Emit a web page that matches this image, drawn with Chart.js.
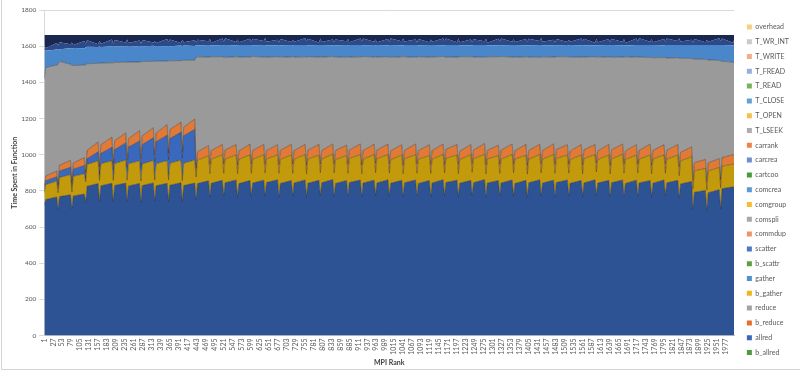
<!DOCTYPE html>
<html><head><meta charset="utf-8">
<script src="https://cdn.jsdelivr.net/npm/chart.js@4.4.1/dist/chart.umd.min.js"></script>
<style>html,body{margin:0;padding:0;background:#fff;}canvas{display:block;}</style>
</head><body>
<canvas id="c" width="800" height="378"></canvas>
<script>
// MPI rank positions of the read points (dip, plateau start, plateau end of each 40-rank node)
const ranks = [1,5,37,41,45,77,81,85,117,121,125,157,161,165,197,201,205,237,241,245,277,281,285,317,321,325,357,361,365,397,401,405,437,441,445,477,481,485,517,521,525,557,561,565,597,601,605,637,641,645,677,681,685,717,721,725,757,761,765,797,801,805,837,841,845,877,881,885,917,921,925,957,961,965,997,1001,1005,1037,1041,1045,1077,1081,1085,1117,1121,1125,1157,1161,1165,1197,1201,1205,1237,1241,1245,1277,1281,1285,1317,1321,1325,1357,1361,1365,1397,1401,1405,1437,1441,1445,1477,1481,1485,1517,1521,1525,1557,1561,1565,1597,1601,1605,1637,1641,1645,1677,1681,1685,1717,1721,1725,1757,1761,1765,1797,1801,1805,1837,1841,1845,1877,1881,1885,1917,1921,1925,1957,1961,1965,1997,2000];

const tickLabels = [1,27,53,79,105,131,157,183,209,235,261,287,313,339,365,391,417,443,469,495,521,547,573,599,625,651,677,703,729,755,781,807,833,859,885,911,937,963,989,1015,1041,1067,1093,1119,1145,1171,1197,1223,1249,1275,1301,1327,1353,1379,1405,1431,1457,1483,1509,1535,1561,1587,1613,1639,1665,1691,1717,1743,1769,1795,1821,1847,1873,1899,1925,1951,1977];

const allred = [720,752,766,700,768,778,702,772,782,735,826,840,740,828,842,738,830,843,742,827,841,736,829,844,744,828,842,740,831,845,738,829,843,752,840,856,768,842,858,772,845,860,765,840,857,770,843,859,774,846,861,768,841,857,771,844,860,766,842,858,773,845,862,769,841,857,772,846,860,767,843,859,775,844,861,770,842,858,768,845,860,773,841,857,766,844,861,771,846,859,769,842,858,774,845,862,767,843,857,772,844,860,770,841,858,765,845,861,773,843,859,768,846,860,771,842,857,769,844,861,774,843,858,766,845,860,772,841,859,770,844,857,767,842,860,773,845,858,760,838,852,700,792,802,692,790,806,700,812,822,818];

const bGather = [70,82,88,90,106,112,92,108,113,115,120,126,118,122,124,120,121,127,117,123,125,119,120,124,116,122,126,121,121,125,118,124,127,125,130,138,128,133,141,126,131,139,130,134,142,127,132,140,125,130,138,129,133,141,126,131,140,128,134,139,127,130,141,130,132,138,125,133,140,128,131,142,126,134,139,129,130,141,127,132,140,125,133,138,130,131,141,128,134,139,126,130,142,129,132,140,127,133,138,125,131,141,130,134,139,128,130,140,126,132,142,129,133,138,127,131,141,125,134,139,130,130,140,128,132,142,126,133,138,129,131,141,127,134,139,125,130,140,124,128,136,112,118,122,114,120,124,118,124,126,125];

const gather = [18,22,24,22,36,40,24,40,45,22,32,50,40,57,75,60,77,95,72,92,110,85,107,125,100,122,140,112,137,155,125,152,170,0];

const commdup = [18,26,32,20,32,38,22,34,44,30,46,54,36,48,56,34,50,55,38,47,57,35,49,56,37,48,58,36,50,55,34,47,57,48,46,56,50,48,58,52,50,57,49,47,59,51,49,58,50,48,56,48,50,59,52,47,57,50,49,60,49,48,56,51,50,58,50,47,59,48,49,57,52,48,58,50,50,56,49,47,59,51,49,60,50,48,57,48,50,58,52,47,56,50,49,59,49,48,57,51,50,58,50,47,60,48,49,56,52,48,59,50,50,57,49,47,58,51,49,56,50,48,59,48,50,57,52,47,58,50,49,60,49,48,56,51,50,58,50,47,55,44,46,50,42,45,48,45,48,52,50];

const tLseek = [594,600,586,668,574,532,654,539,511,595,479,435,572,452,411,556,432,391,543,423,380,539,410,367,519,397,352,510,380,340,506,370,325,615,525,490,593,518,485,590,512,485,598,519,481,593,519,483,589,516,487,595,517,482,594,518,484,595,517,483,592,516,484,590,518,485,595,514,482,596,520,482,588,514,484,591,516,486,599,517,480,591,519,485,592,517,484,594,509,484,593,523,485,589,514,478,596,517,490,593,518,481,590,517,484,601,516,481,588,518,480,593,513,486,594,519,484,593,513,486,586,520,482,600,511,481,590,520,484,590,516,479,595,512,482,587,510,480,600,520,489,674,572,553,678,569,543,656,532,512,515];

const tClose = [158,93,86,85,67,88,92,97,93,97,94,91,92,88,91,89,90,87,87,85,88,86,83,86,82,84,82,82,80,83,79,81,79,66,64,67,67,63,65,65,68,64,63,66,68,66,62,67,69,65,63,66,64,68,62,67,65,68,63,66,65,68,62,66,64,69,63,67,65,68,62,67,64,66,63,67,69,64,62,65,68,66,63,66,69,67,62,64,68,67,67,63,64,63,66,68,68,64,63,65,62,67,66,68,64,63,65,69,68,64,65,66,63,66,64,68,65,69,65,63,65,64,68,63,69,65,66,63,67,67,66,69,68,70,68,70,71,70,72,73,74,76,78,79,80,82,85,87,90,93,96];

const tFread = [30,14,36,18,38,22,34,16,40,20,36,14,32,18,38,16,34,22,38,20,30,14,36,18,30,16,40,22,38,14,36,18,32,16,30,20,34,14,36,20,38,18,32,16,34,18,36,22,38,20,30,14,34,16,30,18,38,22,36,14,36,16,32,16,32,20,34,14,36,20,38,18,32,16,34,18,36,22,38,20,30,14,34,16,30,18,38,22,36,14,36,16,32,16,32,20,34,14,36,20,38,18,32,16,34,18,36,22,38,20,30,14,34,16,30,18,38,22,36,14,36,16,32,16,32,20,34,14,36,20,38,18,32,16,34,18,36,22,38,20,30,14,34,16,30,18,38,22,36,14,30];

const tWrInt = [54,73,44,59,41,52,42,56,34,48,29,52,32,49,25,49,28,42,25,45,31,48,28,42,34,45,22,39,25,45,26,41,29,40,27,35,22,44,19,37,18,39,25,40,21,37,21,33,17,37,27,42,23,39,27,37,18,33,21,42,20,39,25,40,25,35,23,41,20,35,19,37,25,40,23,37,19,35,19,36,25,42,23,40,25,37,19,35,19,41,19,41,25,41,24,35,21,43,21,36,19,37,24,39,23,39,21,33,17,37,27,42,23,39,27,37,19,33,21,43,21,41,23,41,23,37,22,44,20,36,18,38,24,40,23,38,20,34,18,36,26,42,22,40,26,38,18,34,20,43,28];

// series with no visible area in the picture
const none = [];

// stacking order, bottom to top
const series = [
  ['b_allred', none,     '#4E9A3C', '#4E9A3C'],
  ['allred',   allred,   '#2E5395', '#3D66B8'],
  ['b_reduce', none,     '#E2702A', '#E2702A'],
  ['reduce',   none,     '#A3A3A3', '#A3A3A3'],
  ['b_gather', bGather,  '#C39A0C', '#F0B41C'],
  ['gather',   gather,   '#3A68BD', '#4C92D2'],
  ['b_scattr', none,     '#5E9F44', '#5E9F44'],
  ['scatter',  none,     '#4C76C8', '#4C76C8'],
  ['commdup',  commdup,  '#E07A36', '#EE9468'],
  ['comspli',  none,     '#A8A8A8', '#A8A8A8'],
  ['comgroup', none,     '#F6BE2C', '#F6BE2C'],
  ['comcrea',  none,     '#5A9AD6', '#5A9AD6'],
  ['cartcoo',  none,     '#4A9A3C', '#4A9A3C'],
  ['carcrea',  none,     '#6E8ED3', '#6E8ED3'],
  ['carrank',  none,     '#EC8549', '#EC8549'],
  ['T_LSEEK',  tLseek,   '#9A9A9A', '#ADADAD'],
  ['T_OPEN',   none,     '#F5C04A', '#F5C04A'],
  ['T_CLOSE',  tClose,   '#4A87CA', '#62A0DA'],
  ['T_READ',   none,     '#76B35A', '#76B35A'],
  ['T_FREAD',  tFread,   '#2C4A8A', '#98AEDF'],
  ['T_WRITE',  none,     '#F4AD8A', '#F4AD8A'],
  ['T_WR_INT', tWrInt,   '#1A2850', '#C9C9C9'],
  ['overhead', none,     '#F7CF7E', '#F7CF7E']
];
const outlined = ['allred','b_gather','gather','commdup','T_LSEEK'];

const xy = vals => vals.map((v, i) => ({x: ranks[i], y: v}));

const datasets = series.map(([name, vals, fillCol], i) => ({
  label: name,
  data: xy(vals),
  backgroundColor: fillCol,
  borderColor: outlined.includes(name) ? 'rgba(45,40,35,0.6)' : fillCol,
  borderWidth: outlined.includes(name) ? 0.7 : 0,
  pointRadius: 0,
  tension: 0,
  fill: i === 0 ? 'origin' : (vals.length ? 'stack' : false)
}));
const legendColors = series.map(s => s[3]);

const frame = {
  id: 'frame',
  beforeDraw(chart) {
    const {ctx, width} = chart;
    ctx.save();
    ctx.fillStyle = '#fff';
    ctx.fillRect(0, 0, width, chart.height);
    ctx.strokeStyle = '#D4D4D4';
    ctx.lineWidth = 1;
    ctx.beginPath();
    ctx.moveTo(1.5, 0); ctx.lineTo(1.5, 369.5); ctx.lineTo(width, 369.5);
    ctx.stroke();
    ctx.restore();
  }
};

Chart.defaults.font.family = 'Lato';
new Chart(document.getElementById('c'), {
  type: 'line',
  data: { datasets },
  plugins: [frame],
  options: {
    responsive: false,
    animation: false,
    devicePixelRatio: 1,
    layout: { padding: { top: 10, right: 1, bottom: 8.6, left: 0 } },
    plugins: {
      tooltip: { enabled: false },
      legend: {
        position: 'right',
        reverse: true,
        labels: {
          boxWidth: 5, boxHeight: 5, padding: 7.8,
          color: '#595959',
          font: { family: 'Lato', size: 7 },
          generateLabels(chart) {
            const items = Chart.defaults.plugins.legend.labels.generateLabels(chart);
            items.forEach(it => {
              it.fillStyle = legendColors[it.datasetIndex];
              it.strokeStyle = legendColors[it.datasetIndex];
              it.lineWidth = 0;
              it.hidden = false;
            });
            return items;
          }
        }
      }
    },
    scales: {
      x: {
        type: 'linear', min: 1, max: 2000,
        afterBuildTicks(s) { s.ticks = tickLabels.map(v => ({ value: v })); },
        afterFit(s) { s.height = 33.9; },
        ticks: {
          autoSkip: false, minRotation: 90, maxRotation: 90, padding: 3,
          color: '#595959', font: { family: 'Lato', size: 7 },
          callback: v => String(v)
        },
        grid: { display: false, drawTicks: false },
        border: { display: true, color: '#BFBFBF' },
        title: { display: true, text: 'MPI Rank', color: '#404040',
                 font: { family: 'Lato', size: 7, weight: 'bold' }, padding: { top: 0, bottom: 2.4 } }
      },
      y: {
        stacked: true, min: 0, max: 1800,
        afterFit(s) { s.width = 44.3; },
        ticks: { stepSize: 200, padding: 3, color: '#595959', font: { family: 'Lato', size: 6.5 },
                 callback: v => String(v) },
        grid: { color: '#D9D9D9', tickLength: 5 },
        border: { display: true, color: '#D9D9D9' },
        title: { display: true, text: 'Time Spent in Function', color: '#404040',
                 font: { family: 'Lato', size: 7, weight: 'bold' }, padding: { top: 11, bottom: 0 } }
      },
      pad: {
        type: 'linear', position: 'right', display: true,
        afterFit(s) { s.width = 5; },
        ticks: { display: false }, grid: { display: false, drawTicks: false }, border: { display: false }
      }
    }
  }
});
</script>
</body></html>
